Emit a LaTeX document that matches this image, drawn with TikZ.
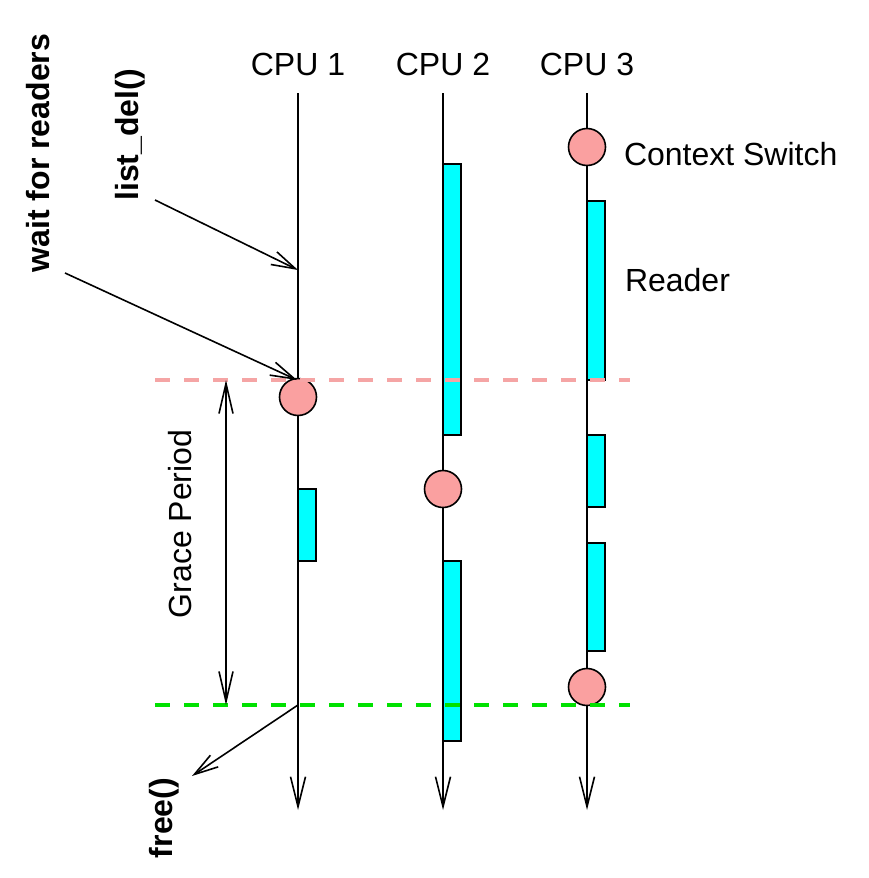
\documentclass[tikz,border=0pt]{standalone}
\usepackage{fontspec}
\setmainfont{Liberation Sans}
\usetikzlibrary{arrows.meta}
\definecolor{cswitch}{RGB}{250,160,160}
\definecolor{readerc}{RGB}{0,255,255}
\definecolor{pinkdash}{RGB}{245,165,165}
\definecolor{greendash}{RGB}{0,225,0}
\begin{document}
\begin{tikzpicture}[x=1pt,y=-1pt,
  every node/.style={inner sep=0pt,outer sep=0pt},
  lbl/.style={font=\fontsize{32}{38}\selectfont},
  blbl/.style={font=\fontsize{32}{38}\selectfont\bfseries,rotate=90},
  cpuline/.style={line width=1.6pt,-{Straight Barb[length=30pt,width=15pt,line width=1.6pt]}},
  ptr/.style={line width=1.6pt,-{Straight Barb[length=24pt,width=14pt,line width=1.6pt]}},
  dblptr/.style={line width=1.6pt,{Straight Barb[length=30pt,width=14pt,line width=1.6pt]}-{Straight Barb[length=30pt,width=14pt,line width=1.6pt]}},
  csw/.style={circle,draw=black,line width=1.6pt,fill=cswitch,minimum size=37pt},
  rdr/.style={draw=black,line width=1.6pt,fill=readerc},
  gpdash/.style={line width=3.4pt,dash pattern=on 15pt off 14pt}]
\useasboundingbox (0,0) rectangle (868,878);

% CPU labels
\node[lbl,anchor=base] (cpu1) at (298,75) {CPU 1};
\node[lbl,anchor=base] (cpu2) at (443,75) {CPU 2};
\node[lbl,anchor=base] (cpu3) at (587,75) {CPU 3};

% line endpoints
\coordinate (t1) at (298,93);
\coordinate (t2) at (443,93);
\coordinate (t3) at (587,93);
\coordinate (b1) at (298,810);
\coordinate (b2) at (443,810);
\coordinate (b3) at (587,810);

\draw[cpuline] (t1) -- (b1);
\draw[cpuline] (t2) -- (b2);
\draw[cpuline] (t3) -- (b3);

% reader blocks
\path[rdr] (298,489) rectangle (316,561) node[pos=.5] (r1a) {};
\path[rdr] (443,164) rectangle (461,435) node[pos=.5] (r2a) {};
\path[rdr] (443,561) rectangle (461,741) node[pos=.5] (r2b) {};
\path[rdr] (587,201) rectangle (605,380) node[pos=.5] (r3a) {};
\path[rdr] (587,435) rectangle (605,507) node[pos=.5] (r3b) {};
\path[rdr] (587,543) rectangle (605,651) node[pos=.5] (r3c) {};

% context switches
\node[csw] (c1) at (298,397) {};
\node[csw] (c2) at (443,489) {};
\node[csw] (c3a) at (587,147) {};
\node[csw] (c3b) at (587,687) {};

% grace period boundaries
\coordinate (gsL) at (155,380);
\coordinate (gsR) at (630,380);
\coordinate (geL) at (155,705);
\coordinate (geR) at (630,705);
\draw[gpdash,pinkdash] (gsL) -- (gsR);
\draw[gpdash,greendash] (geL) -- (geR);

% legend labels
\node[lbl,anchor=base west] (lcs) at (624,165) {Context Switch};
\node[lbl,anchor=base west] (lrd) at (625,291) {Reader};

% rotated labels
\node[blbl] (wait) at (38,153) {wait for readers};
\node[blbl] (ldel) at (130,135) {list\_del()};
\node[blbl] (free) at (164,818) {free()};
\node[lbl,rotate=90] (gp) at (180,524) {Grace Period};

% pointers
\coordinate (ldelS) at (155,200);
\coordinate (ldelE) at (298,270);
\coordinate (waitS) at (65,273);
\coordinate (waitE) at (297,380);
\coordinate (freeS) at (298,705);
\coordinate (freeE) at (192,776);
\coordinate (gpT) at (226,380);
\coordinate (gpB) at (226,705);
\draw[ptr] (ldelS) -- (ldelE);
\draw[ptr] (waitS) -- (waitE);
\draw[ptr] (freeS) -- (freeE);
\draw[dblptr] (gpT) -- (gpB);
\end{tikzpicture}
\end{document}
